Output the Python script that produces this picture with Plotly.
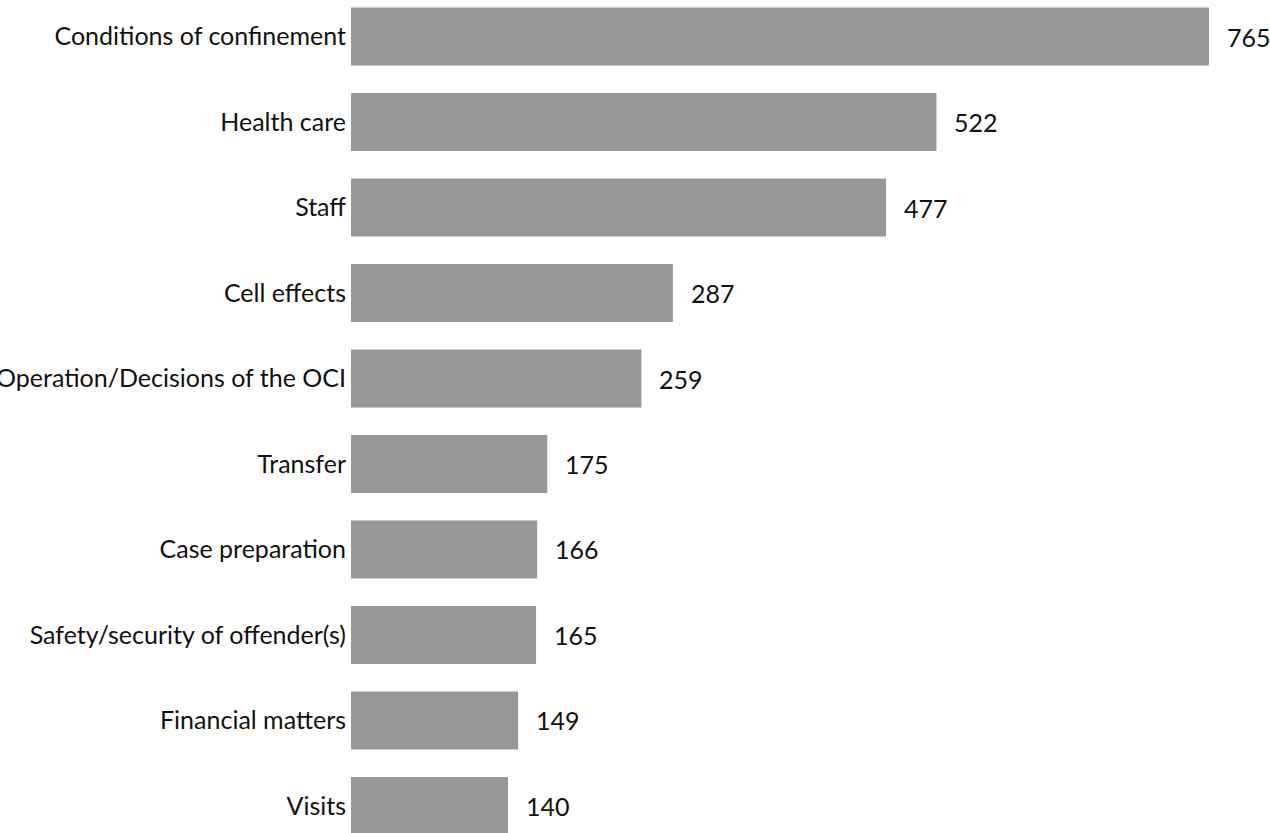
import plotly.graph_objects as go

categories = [
    "Conditions of confinement",
    "Health care",
    "Staff",
    "Cell effects",
    "Operation/Decisions of the OCI",
    "Transfer",
    "Case preparation",
    "Safety/security of offender(s)",
    "Financial matters",
    "Visits",
]
counts = [765, 522, 477, 287, 259, 175, 166, 165, 149, 140]

FONT = dict(family="Lato, Open Sans, sans-serif", size=25, color="#111111")

fig = go.Figure(
    go.Bar(
        x=counts,
        y=categories,
        orientation="h",
        marker=dict(color="#989898", line=dict(width=0)),
        hoverinfo="skip",
    )
)

# value labels to the right of each bar
for cat, val in zip(categories, counts):
    fig.add_annotation(
        x=val,
        y=cat,
        text=str(val),
        showarrow=False,
        xanchor="left",
        xshift=16,
        font=FONT,
    )

fig.update_layout(
    width=1270,
    height=833,
    margin=dict(l=351, r=0, t=0, b=0, autoexpand=False),
    paper_bgcolor="white",
    plot_bgcolor="white",
    bargap=0.32,
    showlegend=False,
    font=FONT,
)
fig.update_xaxes(
    range=[0, 819.4],
    showgrid=False,
    zeroline=False,
    showticklabels=False,
    showline=False,
    automargin=False,
)
fig.update_yaxes(
    type="category",
    range=[9.316, -0.427],
    showgrid=False,
    zeroline=False,
    showline=False,
    ticks="",
    ticklabelstandoff=4,
    tickfont=FONT,
    automargin=False,
)

fig.write_html("out.html")
